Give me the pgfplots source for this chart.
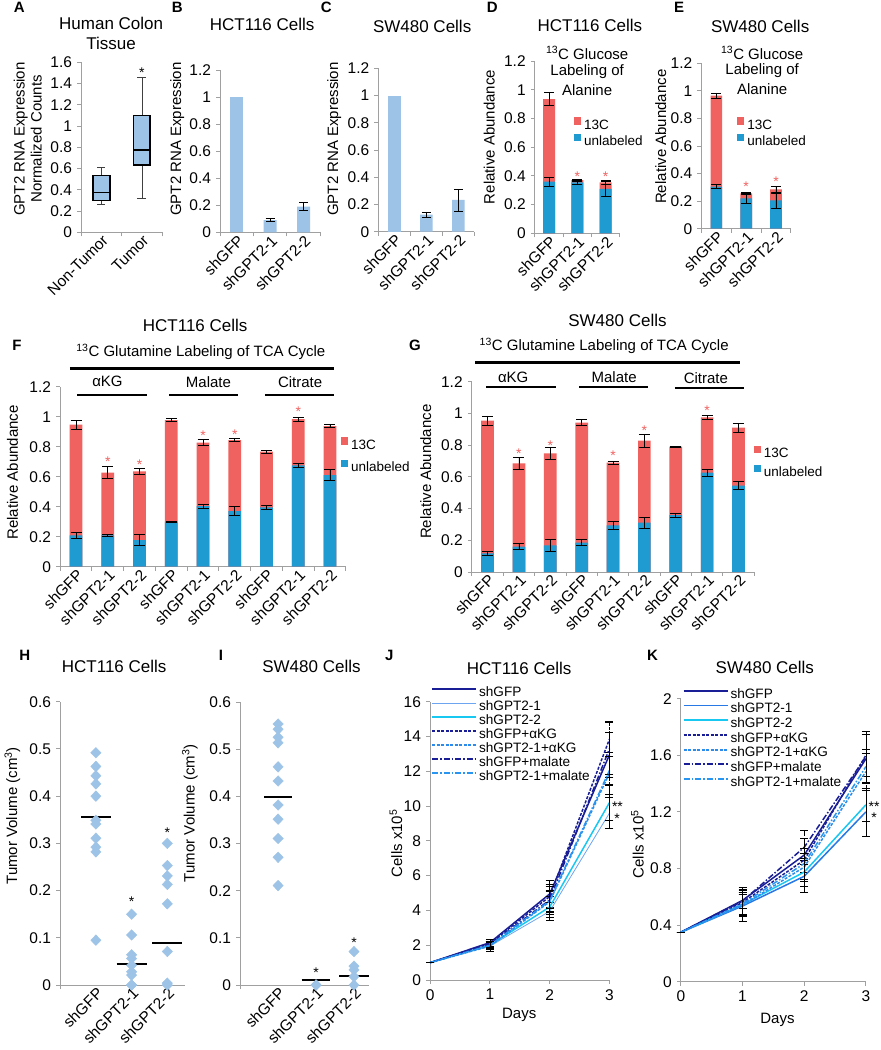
\documentclass[border=0pt]{standalone}
\usepackage{fontspec}
\setmainfont{Liberation Sans}
\usepackage{pgfplots}
\pgfplotsset{compat=1.18}
\usepgfplotslibrary{statistics}
\definecolor{axgray}{RGB}{160,160,160}
\definecolor{lblue}{RGB}{157,195,230}
\definecolor{cred}{RGB}{240,98,96}
\definecolor{cblue}{RGB}{31,155,210}
\definecolor{navy}{RGB}{25,30,150}
\definecolor{pblue}{RGB}{110,165,240}
\definecolor{mblue}{RGB}{40,120,230}
\definecolor{cyanl}{RGB}{25,200,240}
\definecolor{dblue}{RGB}{45,140,235}
\definecolor{eblue}{RGB}{40,150,240}
\newcommand{\fs}[1]{\fontsize{#1}{#1}\selectfont}
\pgfplotsset{
  exl/.style={scale only axis, anchor=south west, axis lines=left,
    axis line style={draw=axgray, line width=0.9pt, -},
    tick style={draw=axgray, line width=0.9pt},
    tick align=outside, major tick length=4pt,
    ymin=0, clip=false,
    /pgf/number format/assume math mode=true,
    yticklabel style={/pgf/number format/fixed, /pgf/number format/assume math mode=true, font=\fs{15.5}},
    xticklabel style={/pgf/number format/assume math mode=true, font=\fs{15.5}},
  },
  catx/.style={xticklabels={}, extra x tick style={major tick length=0pt},
    xticklabel style={rotate=45, anchor=north east, inner sep=1pt}},
  eb/.style={error bars/.cd, y dir=both, y explicit,
    error bar style={black, line width=0.7pt},
    error mark options={black, rotate=90, mark size=#1, line width=0.7pt}},
  sqleg/.style={legend style={draw=none, fill=none, font=\fs{13.5}, inner sep=0pt,
     cells={anchor=west}, /tikz/column sep=2pt,
     nodes={inner sep=1pt, text height=9.5pt, text depth=2.5pt}},
     legend cell align=left},
  lnleg/.style={legend style={at={#1}, anchor=north west, draw=none, fill=none, inner sep=0pt,
    font=\fs{13.6}, cells={anchor=west}, /tikz/column sep=1.5pt,
    nodes={inner sep=0.5pt, text height=9.5pt, text depth=3.5pt}},
    legend cell align=left},
}
\newcommand{\astk}[3]{\node[text=#3, font=\fs{14}, yshift=-2.5pt] at (axis cs:#1,#2) {*};}
\newcommand{\ttl}[3]{\node[font=\fs{17}] at (#1pt,-#2pt) {#3};}
\newcommand{\txt}[3]{\node[font=\fs{15}] at (#1pt,-#2pt) {#3};}
\newcommand{\plab}[3]{\node[font=\bfseries\fs{15}] at (#1pt,-#2pt) {#3};}
\newcommand{\ylab}[3]{\node[font=\fs{15}, rotate=90, align=center] at (#1pt,-#2pt) {#3};}
\begin{document}
\fs{15}
\begin{tikzpicture}
\useasboundingbox (0,0) rectangle (876pt,-1050pt);

% ---------------- A
\begin{axis}[exl, at={(77pt,-232.3pt)}, width=81pt, height=170pt,
  xmin=0.5, xmax=2.5, ymax=1.6, ytick={0,0.2,0.4,0.6,0.8,1,1.2,1.4,1.6},
  xtick={0.5,1.5,2.5}, catx, extra x ticks={1,2}, extra x tick labels={Non-Tumor,Tumor},
  boxplot/draw direction=y,
  boxplot/every box/.style={fill=lblue, draw=black, line width=1.6pt},
  boxplot/every median/.style={draw=black, line width=1.6pt},
  boxplot/every whisker/.style={draw=black!75, line width=0.7pt}]
\addplot[boxplot prepared={draw position=1, lower whisker=0.26, lower quartile=0.30,
  median=0.375, upper quartile=0.535, upper whisker=0.61, box extend=0.41, whisker extend=0.2}]
  coordinates {};
\addplot[boxplot prepared={draw position=2, lower whisker=0.32, lower quartile=0.635,
  median=0.775, upper quartile=1.10, upper whisker=1.46, box extend=0.41, whisker extend=0.22}]
  coordinates {};
\astk{2}{1.53}{black}
\end{axis}
\plab{15}{7}{A}
\ttl{107}{23}{Human Colon}
\ttl{107}{43}{Tissue}
\node[font=\fontsize{15}{17}\selectfont, rotate=90, align=center] at (23.5pt,-139pt) {GPT2 RNA Expression\\Normalized Counts};

% ---------------- B
\begin{axis}[exl, at={(216pt,-232.3pt)}, width=100pt, height=162.3pt,
  xmin=0.5, xmax=3.5, ymax=1.2, ytick={0,0.2,0.4,0.6,0.8,1,1.2},
  xtick={0.5,1.5,2.5,3.5}, catx, extra x ticks={1,2,3}, extra x tick labels={shGFP,shGPT2-1,shGPT2-2}]
\addplot[ybar, bar width=13pt, bar shift=0pt, fill=lblue, draw=none] coordinates {(1,1)};
\addplot[ybar, bar width=13pt, bar shift=0pt, fill=lblue, draw=none, eb=4.5pt] coordinates {(2,0.09) +- (0,0.01) (3,0.19) +- (0,0.03)};
\end{axis}
\plab{173}{7}{B}
\ttl{258}{24}{HCT116 Cells}
\ylab{173}{139}{GPT2 RNA Expression}

% ---------------- C
\begin{axis}[exl, at={(374.3pt,-231.7pt)}, width=96pt, height=163.4pt,
  xmin=0.5, xmax=3.5, ymax=1.2, ytick={0,0.2,0.4,0.6,0.8,1,1.2},
  xtick={0.5,1.5,2.5,3.5}, catx, extra x ticks={1,2,3}, extra x tick labels={shGFP,shGPT2-1,shGPT2-2}]
\addplot[ybar, bar width=12.5pt, bar shift=0pt, fill=lblue, draw=none] coordinates {(1,1)};
\addplot[ybar, bar width=12.5pt, bar shift=0pt, fill=lblue, draw=none, eb=4.5pt] coordinates {(2,0.125) +- (0,0.02) (3,0.233) +- (0,0.08)};
\end{axis}
\plab{322}{7}{C}
\ttl{418}{26}{SW480 Cells}
\ylab{330}{139}{GPT2 RNA Expression}

% ---------------- D
\begin{axis}[exl, at={(530.7pt,-233.3pt)}, width=85pt, height=172.3pt,
  xmin=0.5, xmax=3.5, ymax=1.2, ytick={0,0.2,0.4,0.6,0.8,1,1.2},
  xtick={0.5,1.5,2.5,3.5}, catx, extra x ticks={1,2,3}, extra x tick labels={shGFP,shGPT2-1,shGPT2-2},
  sqleg, legend style={at={(0.455,0.675)}, anchor=north west, /tikz/row sep=1pt},
  legend image code/.code={\fill[#1] (0pt,1pt) rectangle (7.3pt,8.3pt);}]
\addplot[ybar, bar width=12pt, bar shift=0pt, fill=cred, draw=none, eb=5pt] coordinates {(1,0.935) +- (0,0.045) (2,0.37) +- (0,0.005) (3,0.355) +- (0,0.012)};
\addplot[ybar, bar width=12pt, bar shift=0pt, fill=cblue, draw=none, eb=5pt] coordinates {(1,0.36) +- (0,0.03) (2,0.355) +- (0,0.015) (3,0.31) +- (0,0.05)};
\legend{13C,unlabeled}
\astk{2}{0.41}{cred}
\astk{3}{0.41}{cred}
\end{axis}
\plab{488}{7}{D}
\ttl{585.7}{25}{HCT116 Cells}
\txt{583}{53}{\textsuperscript{13}C Glucose}
\txt{583}{72}{Labeling of}
\txt{583}{90}{Alanine}
\ylab{485}{137}{Relative Abundance}

% ---------------- E
\begin{axis}[exl, at={(697.3pt,-228.7pt)}, width=89.4pt, height=165.4pt,
  xmin=0.5, xmax=3.5, ymax=1.2, ytick={0,0.2,0.4,0.6,0.8,1,1.2},
  xtick={0.5,1.5,2.5,3.5}, catx, extra x ticks={1,2,3}, extra x tick labels={shGFP,shGPT2-1,shGPT2-2},
  sqleg, legend style={at={(0.395,0.675)}, anchor=north west, /tikz/row sep=1.3pt},
  legend image code/.code={\fill[#1] (0pt,1pt) rectangle (7.3pt,8.3pt);}]
\addplot[ybar, bar width=11.7pt, bar shift=0pt, fill=cred, draw=none, eb=5pt] coordinates {(1,0.965) +- (0,0.02) (2,0.256) +- (0,0.01) (3,0.285) +- (0,0.02)};
\addplot[ybar, bar width=11.7pt, bar shift=0pt, fill=cblue, draw=none, eb=5pt] coordinates {(1,0.305) +- (0,0.015) (2,0.22) +- (0,0.035) (3,0.205) +- (0,0.055)};
\legend{13C,unlabeled}
\astk{2}{0.32}{cred}
\astk{3}{0.36}{cred}
\end{axis}
\plab{675}{7}{E}
\ttl{756}{26}{SW480 Cells}
\txt{758}{53}{\textsuperscript{13}C Glucose}
\txt{758}{71}{Labeling of}
\txt{758}{89}{Alanine}
\ylab{656.7}{136.7}{Relative Abundance}

% ---------------- F
\begin{axis}[exl, at={(56pt,-566.7pt)}, width=285.7pt, height=180pt,
  xmin=0.5, xmax=9.5, ymax=1.2, ytick={0,0.2,0.4,0.6,0.8,1,1.2},
  xtick={0.5,1.5,...,9.5}, catx, extra x ticks={1,2,3,4,5,6,7,8,9},
  extra x tick labels={shGFP,shGPT2-1,shGPT2-2,shGFP,shGPT2-1,shGPT2-2,shGFP,shGPT2-1,shGPT2-2},
  sqleg, legend style={at={(0.9825,0.72)}, anchor=north west, /tikz/row sep=7pt},
  legend image code/.code={\fill[#1] (0pt,1pt) rectangle (7pt,8.3pt);}]
\addplot[ybar, bar width=12.7pt, bar shift=0pt, fill=cred, draw=none, eb=5.5pt] coordinates {
 (1,0.947) +- (0,0.03) (2,0.627) +- (0,0.04) (3,0.635) +- (0,0.02)
 (4,0.978) +- (0,0.008) (5,0.827) +- (0,0.02) (6,0.844) +- (0,0.01)
 (7,0.767) +- (0,0.008) (8,0.984) +- (0,0.015) (9,0.938) +- (0,0.01)};
\addplot[ybar, bar width=12.7pt, bar shift=0pt, fill=cblue, draw=none, eb=5.5pt] coordinates {
 (1,0.209) +- (0,0.02) (2,0.209) +- (0,0.005) (3,0.178) +- (0,0.035)
 (4,0.300) +- (0,0.002) (5,0.404) +- (0,0.015) (6,0.371) +- (0,0.03)
 (7,0.396) +- (0,0.015) (8,0.676) +- (0,0.012) (9,0.611) +- (0,0.035)};
\legend{13C,unlabeled}
\astk{2}{0.716}{cred}
\astk{3}{0.696}{cred}
\astk{5}{0.893}{cred}
\astk{6}{0.90}{cred}
\astk{8}{1.05}{cred}
\end{axis}
\ttl{191}{325}{HCT116 Cells}
\plab{12.7}{345.7}{F}
\txt{196.7}{351.7}{\textsuperscript{13}C Glutamine Labeling of TCA Cycle}
\draw[line width=3pt] (65.7pt,-368.3pt) -- (330pt,-368.3pt);
\txt{103.3}{381.7}{αKG}
\txt{204.3}{381.7}{Malate}
\txt{296}{381.7}{Citrate}
\draw[line width=1.8pt] (73.3pt,-395pt) -- (142.7pt,-395pt);
\draw[line width=1.8pt] (165pt,-395pt) -- (234.3pt,-395pt);
\draw[line width=1.8pt] (260.7pt,-395pt) -- (330pt,-395pt);
\ylab{8.3}{472.5}{Relative Abundance}

% ---------------- G
\begin{axis}[exl, at={(467.7pt,-572pt)}, width=282.3pt, height=190.3pt,
  xmin=0.5, xmax=9.5, ymax=1.2, ytick={0,0.2,0.4,0.6,0.8,1,1.2},
  xtick={0.5,1.5,...,9.5}, catx, extra x ticks={1,2,3,4,5,6,7,8,9},
  extra x tick labels={shGFP,shGPT2-1,shGPT2-2,shGFP,shGPT2-1,shGPT2-2,shGFP,shGPT2-1,shGPT2-2},
  sqleg, legend style={at={(0.9975,0.664)}, anchor=north west, /tikz/row sep=3.6pt},
  legend image code/.code={\fill[#1] (0pt,1pt) rectangle (7.3pt,8.3pt);}]
\addplot[ybar, bar width=12.7pt, bar shift=0pt, fill=cred, draw=none, eb=5.5pt] coordinates {
 (1,0.954) +- (0,0.03) (2,0.685) +- (0,0.035) (3,0.748) +- (0,0.04)
 (4,0.942) +- (0,0.02) (5,0.689) +- (0,0.01) (6,0.828) +- (0,0.04)
 (7,0.790) +- (0,0.003) (8,0.975) +- (0,0.015) (9,0.910) +- (0,0.03)};
\addplot[ybar, bar width=12.7pt, bar shift=0pt, fill=cblue, draw=none, eb=5.5pt] coordinates {
 (1,0.118) +- (0,0.01) (2,0.160) +- (0,0.02) (3,0.168) +- (0,0.035)
 (4,0.185) +- (0,0.02) (5,0.294) +- (0,0.025) (6,0.311) +- (0,0.035)
 (7,0.359) +- (0,0.012) (8,0.626) +- (0,0.02) (9,0.544) +- (0,0.025)};
\legend{13C,unlabeled}
\astk{2}{0.759}{cred}
\astk{3}{0.815}{cred}
\astk{5}{0.748}{cred}
\astk{6}{0.91}{cred}
\astk{8}{1.03}{cred}
\end{axis}
\ttl{613.3}{320.7}{SW480 Cells}
\plab{410.7}{345.7}{G}
\txt{600}{345.7}{\textsuperscript{13}C Glutamine Labeling of TCA Cycle}
\draw[line width=3pt] (471pt,-362.7pt) -- (736pt,-362.7pt);
\txt{509}{377.3}{αKG}
\txt{610}{377.3}{Malate}
\txt{701.7}{378.3}{Citrate}
\draw[line width=1.8pt] (482.3pt,-387.3pt) -- (551.7pt,-387.3pt);
\draw[line width=1.8pt] (575pt,-387.3pt) -- (644pt,-387.3pt);
\draw[line width=1.8pt] (670.7pt,-388.3pt) -- (740pt,-388.3pt);
\ylab{421.7}{471.7}{Relative Abundance}

% ---------------- H
\begin{axis}[exl, at={(56pt,-985pt)}, width=125pt, height=283.3pt,
  xmin=0, xmax=3.5, ymax=0.6, ytick={0,0.1,0.2,0.3,0.4,0.5,0.6},
  xtick={0}, xticklabels={}, extra x ticks={1,2,3}, extra x tick labels={shGFP,shGPT2-1,shGPT2-2},
  extra x tick style={major tick length=0pt}, xticklabel style={rotate=45, anchor=north east, inner sep=1pt}]
\addplot[color=lblue, only marks, mark=diamond*, mark size=5.3pt, mark options={xscale=1.3, fill=lblue, draw=lblue}] coordinates {
 (1,0.492) (1,0.463) (1,0.443) (1,0.426) (1,0.400) (1,0.349) (1,0.341) (1,0.311) (1,0.292) (1,0.282) (1,0.095)
 (2,0.150) (2,0.106) (2,0.064) (2,0.056) (2,0.042) (2,0.028) (2,0.021) (2,0) (2,0)
 (3,0.300) (3,0.253) (3,0.231) (3,0.213) (3,0.172) (3,0.071) (3,0.004) (3,0)};
\addplot[black, line width=2pt] coordinates {(0.59,0.356) (1.41,0.356)};
\addplot[black, line width=2pt] coordinates {(1.58,0.044) (2.42,0.044)};
\addplot[black, line width=2pt] coordinates {(2.58,0.088) (3.42,0.088)};
\astk{2}{0.181}{black}
\astk{3}{0.328}{black}
\end{axis}
\plab{20.7}{655}{H}
\ttl{110}{666}{HCT116 Cells}
\ylab{8.3}{815.8}{Tumor Volume (cm\textsuperscript{3})}

% ---------------- I
\begin{axis}[exl, at={(236pt,-985pt)}, width=129pt, height=282.7pt,
  xmin=0, xmax=3.4, ymax=0.6, ytick={0,0.1,0.2,0.3,0.4,0.5,0.6},
  xtick={0}, xticklabels={}, extra x ticks={1,2,3}, extra x tick labels={shGFP,shGPT2-1,shGPT2-2},
  extra x tick style={major tick length=0pt}, xticklabel style={rotate=45, anchor=north east, inner sep=1pt}]
\addplot[color=lblue, only marks, mark=diamond*, mark size=5.3pt, mark options={xscale=1.3, fill=lblue, draw=lblue}] coordinates {
 (1,0.554) (1,0.543) (1,0.526) (1,0.514) (1,0.463) (1,0.433) (1,0.382) (1,0.352) (1,0.311) (1,0.271) (1,0.211)
 (2,0) (2,0)
 (3,0.071) (3,0.040) (3,0.032) (3,0.018) (3,0)};
\addplot[black, line width=2pt] coordinates {(0.63,0.398) (1.37,0.398)};
\addplot[black, line width=2pt] coordinates {(1.62,0.011) (2.38,0.011)};
\addplot[black, line width=2pt] coordinates {(2.61,0.020) (3.39,0.020)};
\astk{2}{0.032}{black}
\astk{3}{0.096}{black}
\end{axis}
\plab{216.7}{655}{I}
\ttl{307.3}{666.7}{SW480 Cells}
\ylab{185.7}{813.3}{Tumor Volume (cm\textsuperscript{3})}

% ---------------- J
\begin{axis}[exl, at={(426pt,-980pt)}, width=179.3pt, height=278.3pt,
  xmin=0, xmax=3, ymax=16, ytick={0,2,4,6,8,10,12,14,16}, xtick={0,1,2,3},
  lnleg={(0.005,1.055)}, legend style={/tikz/row sep=0pt},
  legend image code/.code={\draw[#1] (0pt,4.3pt) -- (44pt,4.3pt);}]
\addlegendimage{draw=navy, line width=1.8pt}
\addlegendimage{draw=pblue, line width=1pt}
\addlegendimage{draw=cyanl, line width=1.8pt}
\addlegendimage{draw=navy, line width=1.8pt, dash pattern=on 3pt off 1.5pt}
\addlegendimage{draw=dblue, line width=1.8pt, dash pattern=on 3pt off 1.5pt}
\addlegendimage{draw=navy, line width=1.8pt, dash pattern=on 6pt off 2pt on 1.5pt off 2pt}
\addlegendimage{draw=eblue, line width=1.8pt, dash pattern=on 6pt off 2pt on 1.5pt off 2pt}
\addplot[forget plot, color=navy, line width=1.5pt, eb=4pt] coordinates {(0,1) +- (0,0) (1,2.15) +- (0,0.2) (2,4.95) +- (0,0.8) (3,12.95) +- (0,1.3)};
\addplot[forget plot, color=pblue, line width=0.8pt, eb=4pt] coordinates {(0,1) +- (0,0) (1,1.95) +- (0,0.3) (2,3.95) +- (0,0.5) (3,9.6) +- (0,0.9)};
\addplot[forget plot, color=cyanl, line width=1.5pt, eb=4pt] coordinates {(0,1) +- (0,0) (1,2.0) +- (0,0.2) (2,4.2) +- (0,0.6) (3,10.2) +- (0,1.0)};
\addplot[forget plot, color=navy, line width=1.5pt, dash pattern=on 3pt off 1.5pt, eb=4pt] coordinates {(0,1) +- (0,0) (1,2.1) +- (0,0.15) (2,4.8) +- (0,0.7) (3,13.85) +- (0,1.0)};
\addplot[forget plot, color=dblue, line width=1.5pt, dash pattern=on 3pt off 1.5pt, eb=4pt] coordinates {(0,1) +- (0,0) (1,1.95) +- (0,0.2) (2,4.5) +- (0,0.6) (3,11.9) +- (0,1.2)};
\addplot[forget plot, color=navy, line width=1.5pt, dash pattern=on 6pt off 2pt on 1.5pt off 2pt, eb=4pt] coordinates {(0,1) +- (0,0) (1,2.05) +- (0,0.2) (2,4.6) +- (0,0.8) (3,13.3) +- (0,1.5)};
\addplot[forget plot, color=eblue, line width=1.5pt, dash pattern=on 6pt off 2pt on 1.5pt off 2pt, eb=4pt] coordinates {(0,1) +- (0,0) (1,2.0) +- (0,0.25) (2,4.55) +- (0,0.6) (3,12.05) +- (0,0.8)};
\legend{shGFP,shGPT2-1,shGPT2-2,shGFP+αKG,shGPT2-1+αKG,shGFP+malate,shGPT2-1+malate}
\end{axis}
\plab{385}{655}{J}
\ttl{515}{668.3}{HCT116 Cells}
\ylab{391.7}{843.3}{Cells x10\textsuperscript{5}}
\txt{515}{1015}{Days}
\node[font=\fs{14}] at (613.3pt,-806.5pt) {**};
\node[font=\fs{14}] at (613pt,-818.2pt) {*};

% ---------------- K
\begin{axis}[exl, at={(676.7pt,-981.7pt)}, width=185pt, height=283pt,
  xmin=0, xmax=3, ymax=2, ytick={0,0.4,0.8,1.2,1.6,2}, xtick={0,1,2,3},
  lnleg={(0.009,1.038)}, legend style={/tikz/row sep=0.7pt},
  legend image code/.code={\draw[#1] (0pt,4.3pt) -- (44pt,4.3pt);}]
\addlegendimage{draw=navy, line width=1.8pt}
\addlegendimage{draw=mblue, line width=1.8pt}
\addlegendimage{draw=cyanl, line width=1.8pt}
\addlegendimage{draw=navy, line width=1.8pt, dash pattern=on 3pt off 1.5pt}
\addlegendimage{draw=dblue, line width=1.8pt, dash pattern=on 3pt off 1.5pt}
\addlegendimage{draw=navy, line width=1.8pt, dash pattern=on 6pt off 2pt on 1.5pt off 2pt}
\addlegendimage{draw=eblue, line width=1.8pt, dash pattern=on 6pt off 2pt on 1.5pt off 2pt}
\addplot[forget plot, color=navy, line width=1.5pt, eb=4pt] coordinates {(0,0.35) +- (0,0) (1,0.575) +- (0,0.06) (2,0.895) +- (0,0.12) (3,1.575) +- (0,0.17)};
\addplot[forget plot, color=mblue, line width=1.5pt, eb=4pt] coordinates {(0,0.35) +- (0,0) (1,0.535) +- (0,0.11) (2,0.745) +- (0,0.11) (3,1.2) +- (0,0.17)};
\addplot[forget plot, color=cyanl, line width=1.5pt, eb=4pt] coordinates {(0,0.35) +- (0,0) (1,0.545) +- (0,0.07) (2,0.775) +- (0,0.1) (3,1.25) +- (0,0.12)};
\addplot[forget plot, color=navy, line width=1.5pt, dash pattern=on 3pt off 1.5pt, eb=4pt] coordinates {(0,0.35) +- (0,0) (1,0.56) +- (0,0.09) (2,0.86) +- (0,0.15) (3,1.6) +- (0,0.15)};
\addplot[forget plot, color=dblue, line width=1.5pt, dash pattern=on 3pt off 1.5pt, eb=4pt] coordinates {(0,0.35) +- (0,0) (1,0.54) +- (0,0.08) (2,0.81) +- (0,0.1) (3,1.485) +- (0,0.13)};
\addplot[forget plot, color=navy, line width=1.5pt, dash pattern=on 6pt off 2pt on 1.5pt off 2pt, eb=4pt] coordinates {(0,0.35) +- (0,0) (1,0.57) +- (0,0.1) (2,0.95) +- (0,0.12) (3,1.59) +- (0,0.18)};
\addplot[forget plot, color=eblue, line width=1.5pt, dash pattern=on 6pt off 2pt on 1.5pt off 2pt, eb=4pt] coordinates {(0,0.35) +- (0,0) (1,0.55) +- (0,0.08) (2,0.835) +- (0,0.11) (3,1.52) +- (0,0.12)};
\legend{shGFP,shGPT2-1,shGPT2-2,shGFP+αKG,shGPT2-1+αKG,shGFP+malate,shGPT2-1+malate}
\end{axis}
\plab{648.3}{655}{K}
\ttl{760.7}{667.3}{SW480 Cells}
\ylab{633.3}{844.2}{Cells x10\textsuperscript{5}}
\txt{773.3}{1020}{Days}
\node[font=\fs{14}] at (870pt,-806.5pt) {**};
\node[font=\fs{14}] at (870pt,-817.5pt) {*};
\end{tikzpicture}
\end{document}
